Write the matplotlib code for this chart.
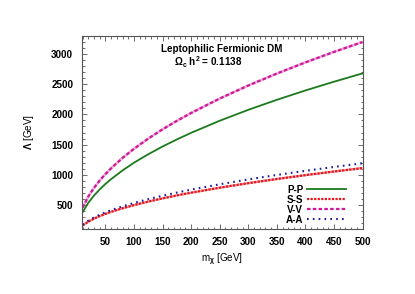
import matplotlib
matplotlib.use("Agg")
import matplotlib.pyplot as plt
from matplotlib.ticker import MultipleLocator

plt.rcParams['font.family'] = ['Liberation Sans', 'DejaVu Sans']
plt.rcParams['font.weight'] = 'bold'
plt.rcParams['mathtext.fontset'] = 'custom'
plt.rcParams['mathtext.rm'] = 'Liberation Sans:weight=bold'
plt.rcParams['mathtext.it'] = 'Liberation Sans:weight=bold'
plt.rcParams['mathtext.bf'] = 'Liberation Sans:weight=bold'

# dark matter mass [GeV]
m_chi = [10, 20, 30, 40, 50, 60, 80, 100, 125, 150, 175, 200,
         250, 300, 350, 400, 450, 500]

# cutoff scale Lambda [GeV]
lam_pp = [380, 536, 656, 758, 848, 928, 1072, 1200, 1340, 1468, 1585, 1695,
          1895, 2076, 2242, 2397, 2542, 2680]
lam_ss = [160, 222, 272, 314, 351, 385, 444, 496, 555, 608, 657, 702,
          785, 860, 929, 993, 1053, 1110]
lam_vv = [455, 640, 784, 905, 1012, 1108, 1280, 1431, 1600, 1753, 1893, 2024,
          2263, 2479, 2677, 2862, 3036, 3200]
lam_aa = [172, 238, 292, 337, 376, 412, 476, 532, 595, 652, 704, 753,
          841, 922, 996, 1064, 1129, 1190]

FS = 7.1

fig = plt.figure(figsize=(4.15, 2.94), dpi=100)
ax = fig.add_axes([81.5 / 415, 1 - 229 / 294, (362.5 - 81.5) / 415, (229 - 36) / 294])

ax.plot(m_chi, lam_pp, color='#1b7a1b', lw=1.3, label='P-P')
ax.plot(m_chi, lam_ss, color='#f7a0a8', lw=1.7, solid_capstyle='butt')
ax.plot(m_chi, lam_ss, color='#e8141c', lw=1.6, ls=(0, (1.0, 0.6)), label='S-S')
ax.plot(m_chi, lam_vv, color='#f2a8d8', lw=1.8, solid_capstyle='butt')
ax.plot(m_chi, lam_vv, color='#cc1a99', lw=1.6, ls=(0, (1.6, 1.0)), label='V-V')
ax.plot(m_chi, lam_aa, color='#1c1c96', lw=1.5, ls=(0, (0.8, 2.0)), label='A-A')

ax.set_xlim(8, 500)
ax.set_ylim(100, 3300)
ax.xaxis.set_major_locator(MultipleLocator(50))
ax.xaxis.set_minor_locator(MultipleLocator(10))
ax.yaxis.set_major_locator(MultipleLocator(500))
ax.yaxis.set_minor_locator(MultipleLocator(100))
ax.set_xticks([50, 100, 150, 200, 250, 300, 350, 400, 450, 500])
ax.set_yticks([500, 1000, 1500, 2000, 2500, 3000])

ax.tick_params(which='both', direction='in', top=True, right=True,
               labelsize=FS, color='#555555', width=0.6)
ax.tick_params(which='major', length=3.5)
ax.tick_params(which='minor', length=1.8)
ax.tick_params(axis='x', which='major', pad=6)
ax.tick_params(axis='y', which='major', pad=6)
for lbl in ax.get_xticklabels() + ax.get_yticklabels():
    lbl.set_fontweight('bold')
for s in ax.spines.values():
    s.set_color('#555555')
    s.set_linewidth(0.8)

ax.set_xlabel(r'm$_\chi$ [GeV]', fontsize=FS, labelpad=3)
ax.set_ylabel(r'$\Lambda$ [GeV]', fontsize=FS, labelpad=11)

fig.text(222 / 415, 1 - 49 / 294, 'Leptophilic Fermionic DM', fontsize=FS,
         ha='center', va='center', fontweight='bold')
fig.text(208 / 415, 1 - 62 / 294, r'$\Omega_c$ h$^2$ = 0.1138', fontsize=FS,
         ha='center', va='center', fontweight='bold')

leg = ax.legend(loc='lower right', bbox_to_anchor=(351 / 415, 1 - 229.5 / 294),
                bbox_transform=fig.transFigure, frameon=False, fontsize=FS,
                markerfirst=False, handlelength=4.0, handletextpad=0.35,
                labelspacing=0.0, borderpad=0)

fig.savefig('out.png', dpi=100)
